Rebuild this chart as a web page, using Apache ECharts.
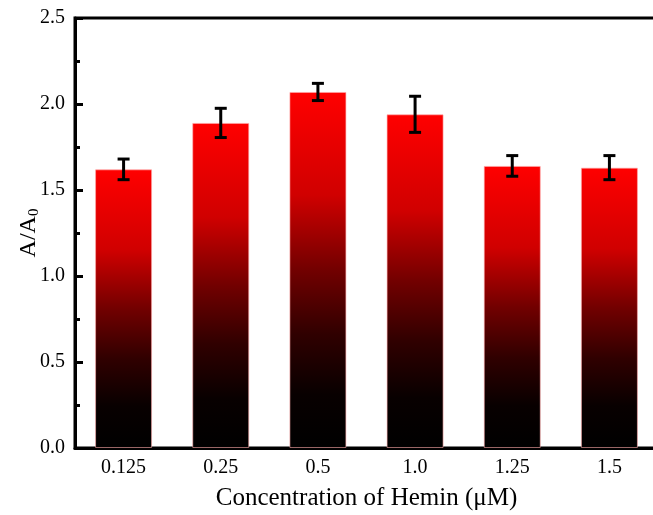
<!DOCTYPE html>
<html>
<head>
<meta charset="utf-8">
<script src="https://cdn.jsdelivr.net/npm/echarts@6/dist/echarts.min.js"></script>
<style>
  html, body { margin: 0; padding: 0; background: #fff; }
  #main { width: 653px; height: 515px; }
</style>
</head>
<body>
<div id="main"></div>
<script>
var categories = ['0.125', '0.25', '0.5', '1.0', '1.25', '1.5'];
var means = [1.62, 1.89, 2.07, 1.94, 1.64, 1.63];
var errors = [0.06, 0.085, 0.05, 0.105, 0.06, 0.07];

var myChart = echarts.init(document.getElementById('main'));
var font = '"Liberation Serif", "Times New Roman", serif';

var errData = means.map(function (m, i) {
  return [i, m - errors[i], m + errors[i]];
});

var option = {
  animation: false,
  grid: {
    left: 75, top: 18, bottom: 67, width: 583,
    outerBoundsMode: 'none',
    show: true, borderColor: '#000', borderWidth: 3
  },
  xAxis: {
    type: 'category',
    data: categories,
    name: 'Concentration of Hemin (μM)',
    nameLocation: 'middle',
    nameGap: 38,
    nameMoveOverlap: false,
    nameTextStyle: { fontFamily: font, fontSize: 25, color: '#000' },
    axisLine: { lineStyle: { color: '#000', width: 3 } },
    axisTick: { alignWithLabel: true, length: 5, lineStyle: { color: '#000', width: 3 } },
    axisLabel: { fontFamily: font, fontSize: 20, color: '#000', margin: 10 }
  },
  yAxis: {
    type: 'value',
    min: 0, max: 2.5, interval: 0.5,
    name: 'A/A{sub|0}',
    nameLocation: 'middle',
    nameGap: 33,
    nameRotate: 90,
    nameMoveOverlap: false,
    nameTextStyle: {
      fontFamily: font, fontSize: 24, color: '#000',
      rich: { sub: { fontFamily: font, fontSize: 15, color: '#000', verticalAlign: 'bottom', padding: [12, 0, 0, 0] } }
    },
    splitLine: { show: false },
    axisLine: { show: true, lineStyle: { color: '#000', width: 3 } },
    axisTick: { show: true, inside: true, length: 8, lineStyle: { color: '#000', width: 3 } },
    minorTick: { show: true, splitNumber: 2, length: 5, lineStyle: { color: '#000', width: 3 } },
    axisLabel: {
      fontFamily: font, fontSize: 20, color: '#000', margin: 10,
      formatter: function (v) { return v.toFixed(1); }
    }
  },
  series: [{
    type: 'bar',
    data: means,
    barWidth: 57,
    itemStyle: {
      borderColor: 'rgba(255,170,170,0.6)',
      borderWidth: 1,
      color: new echarts.graphic.LinearGradient(0, 0, 0, 1, [
        { offset: 0, color: '#ff0000' },
        { offset: 0.29, color: '#d00000' },
        { offset: 0.5, color: '#720000' },
        { offset: 0.68, color: '#300000' },
        { offset: 0.85, color: '#080000' },
        { offset: 1, color: '#000000' }
      ])
    },
    z: 2
  }, {
    type: 'custom',
    data: errData,
    z: 5,
    renderItem: function (params, api) {
      var lo = api.coord([api.value(0), api.value(1)]);
      var hi = api.coord([api.value(0), api.value(2)]);
      var half = 6;
      var st = { stroke: '#000', lineWidth: 3 };
      return {
        type: 'group',
        children: [
          { type: 'line', shape: { x1: hi[0], y1: hi[1], x2: lo[0], y2: lo[1] }, style: st },
          { type: 'line', shape: { x1: hi[0] - half, y1: hi[1], x2: hi[0] + half, y2: hi[1] }, style: st },
          { type: 'line', shape: { x1: lo[0] - half, y1: lo[1], x2: lo[0] + half, y2: lo[1] }, style: st }
        ]
      };
    }
  }]
};
myChart.setOption(option);
</script>
</body>
</html>
